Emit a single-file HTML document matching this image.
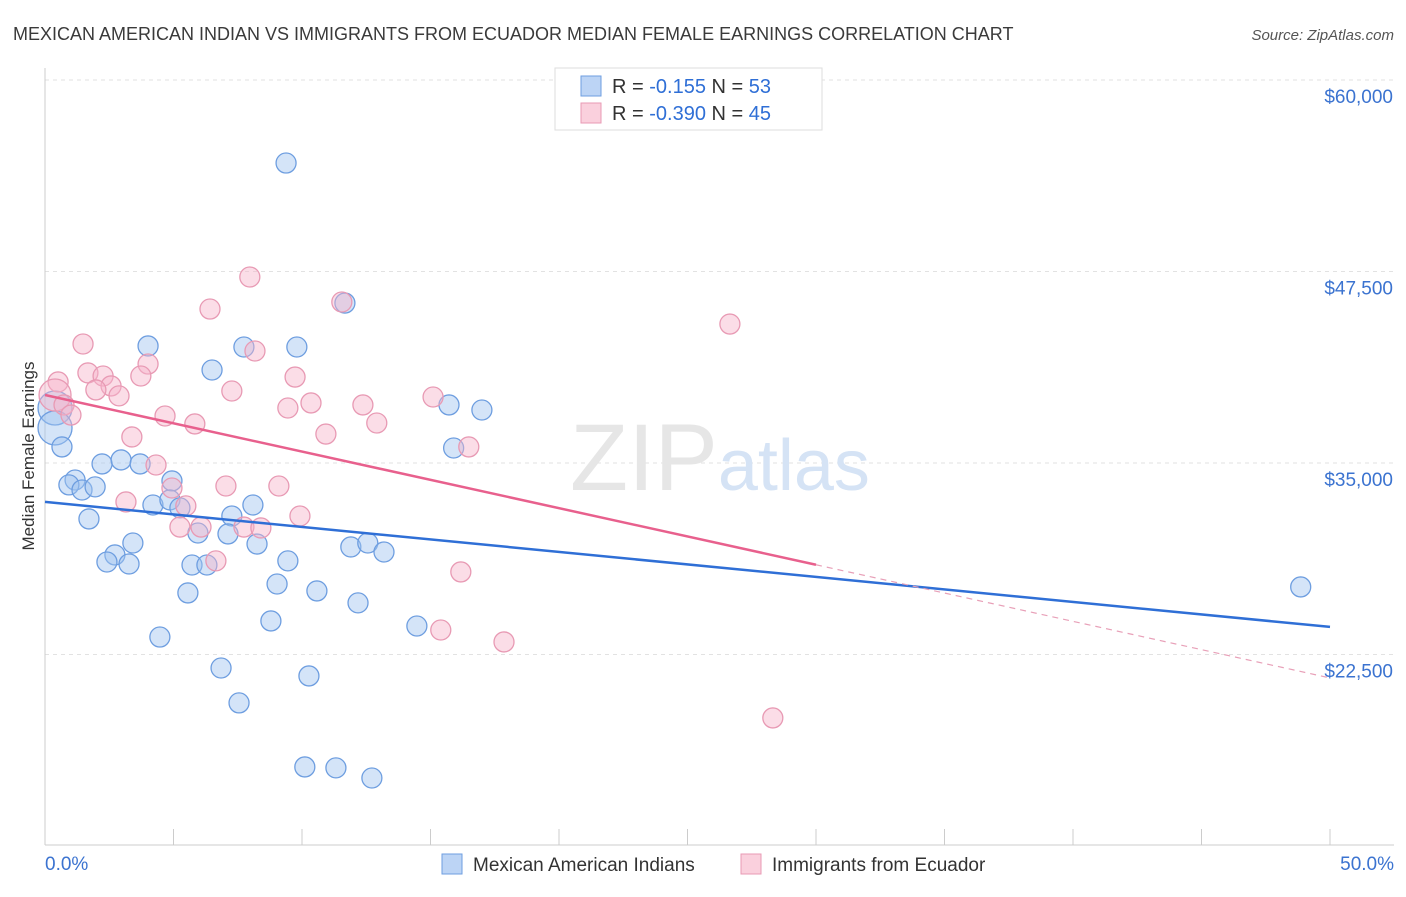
<!DOCTYPE html>
<html><head><meta charset="utf-8"><style>
body{margin:0;background:#fff;font-family:"Liberation Sans",sans-serif}
svg text{font-family:"Liberation Sans",sans-serif}
</style></head><body>
<svg id="chart" width="1406" height="892" xmlns="http://www.w3.org/2000/svg">
<text x="13" y="40" font-size="18" fill="#3a3a3a">MEXICAN AMERICAN INDIAN VS IMMIGRANTS FROM ECUADOR MEDIAN FEMALE EARNINGS CORRELATION CHART</text>
<text x="1394" y="40" font-size="15" fill="#555" text-anchor="end" font-style="italic">Source: ZipAtlas.com</text>
<g id="grid"></g>
<text x="720" y="490" font-size="95" fill="#e6e6e6" text-anchor="middle" font-family="Liberation Serif">ZIP<tspan fill="#d5e3f5" font-family="Liberation Sans" font-size="72">atlas</tspan></text>
<g id="points"></g>
<g id="lines"></g>
<text transform="translate(34,456) rotate(-90)" font-size="17" fill="#333" text-anchor="middle">Median Female Earnings</text>
<g>
<rect x="555" y="68" width="267" height="62" fill="#fff" stroke="#ddd"/>
<rect x="581" y="76" width="20" height="20" fill="#bcd4f5" stroke="#6e9ee0"/>
<text x="612" y="93" font-size="20" fill="#333">R = <tspan fill="#2f6fd6">-0.155</tspan>   N = <tspan fill="#2f6fd6">53</tspan></text>
<rect x="581" y="103" width="20" height="20" fill="#fad0dd" stroke="#e89ab4"/>
<text x="612" y="120" font-size="20" fill="#333">R = <tspan fill="#2f6fd6">-0.390</tspan>   N = <tspan fill="#2f6fd6">45</tspan></text>
</g>
<g>
<rect x="442" y="854" width="20" height="20" fill="#bcd4f5" stroke="#6e9ee0"/>
<text x="473" y="871" font-size="19" fill="#333">Mexican American Indians</text>
<rect x="741" y="854" width="20" height="20" fill="#fad0dd" stroke="#e89ab4"/>
<text x="772" y="871" font-size="19" fill="#333">Immigrants from Ecuador</text>
</g>
</svg>
<script>
const xTicks=[0,5,10,15,20,25,30,35,40,45,50];
const yTicks=[22500,35000,47500,60000];
const yTickLabels=["$22,500","$35,000","$47,500","$60,000"];
const blueX=[9.38,4.01,7.74,9.80,6.50,11.67,15.72,17.0,15.9,0.39,0.39,0.66,2.22,2.96,3.70,1.17,0.93,1.44,1.95,1.71,4.20,4.94,4.86,5.25,8.09,7.27,5.95,7.12,3.42,2.72,2.41,3.27,5.72,6.30,8.25,9.45,11.9,12.56,13.19,9.03,10.58,5.56,12.18,8.79,14.47,4.47,6.85,10.27,7.55,10.11,11.32,12.72,48.86];
const blueY=[54580,42640,42570,42570,41070,45440,38790,38460,35980,38590,37290,36050,34940,35200,34940,33890,33570,33240,33440,31350,32260,33830,32590,32070,32260,31540,30430,30370,29780,29000,28540,28410,28340,28340,29710,28610,29520,29780,29190,27100,26650,26520,25870,24690,24360,23640,21620,21100,19340,15160,15100,14440,26910];
const pinkX=[7.97,11.55,6.42,26.65,1.48,8.17,4.01,1.67,2.26,3.73,9.73,0.51,2.57,1.98,2.88,7.27,0.39,15.1,0.74,10.35,12.37,9.45,1.01,4.67,5.83,12.91,10.93,3.38,16.49,4.32,7.04,9.1,4.94,5.48,3.15,9.92,5.25,6.07,7.74,8.40,6.65,16.18,15.4,17.86,28.32];
const pinkY=[47140,45510,45050,44070,42770,42310,41460,40880,40680,40680,40610,40290,40030,39770,39380,39700,39440,39310,38790,38920,38790,38590,38130,38070,37550,37610,36890,36700,36050,34870,33500,33500,33370,32200,32460,31540,30820,30820,30820,30760,28610,27890,24100,23320,18360];
const blueTrend=[32460,24300];
const pinkTrend=[39440,20970];
const pinkSolidEnd=30;
const NS="http://www.w3.org/2000/svg";
const X=v=>45+v/50*1285;
const Y=v=>80+(60000-v)/12500*191.5;
function mk(tag,attrs,parent){const e=document.createElementNS(NS,tag);for(const k in attrs)e.setAttribute(k,attrs[k]);parent.appendChild(e);return e;}
const grid=document.getElementById('grid');
yTicks.forEach((t,i)=>{
 const l=mk('line',{x1:45,x2:1394,y1:Y(t),y2:Y(t),stroke:'#e2e2e2','stroke-dasharray':'4 4'},grid);
 
 
 const tx=mk('text',{x:1393,y:Y(t)+23,'font-size':19,fill:'#3b73d0','text-anchor':'end'},grid);
 tx.textContent=yTickLabels[i];
 
 
});
const ax=mk('line',{x1:45,x2:1394,y1:845,y2:845,stroke:'#ccc'},grid);


const ay=mk('line',{x1:45,x2:45,y1:68,y2:845,stroke:'#ccc'},grid);


xTicks.forEach(t=>{
 const l=mk('line',{x1:X(t),x2:X(t),y1:829,y2:845,stroke:'#ccc'},grid);
 
 
});
[[0,'0.0%','start',45],[50,'50.0%','end',1394]].forEach(a=>{
 const tx=mk('text',{x:a[3],y:870,'font-size':19,fill:'#3b73d0','text-anchor':a[2]},grid);
 tx.textContent=a[1];
 
 
});
const pts=document.getElementById('points');
blueX.forEach((x,i)=>{
 const big=(x<0.5&&i>=9&&i<=10);
 const c=mk('circle',{cx:X(x),cy:Y(blueY[i]),r:big?17:10,fill:'rgba(160,196,240,0.45)',stroke:'#6e9ee0','stroke-width':1.3},pts);
 
 
});
pinkX.forEach((x,i)=>{
 const big=(i===16);
 const c=mk('circle',{cx:X(x),cy:Y(pinkY[i]),r:big?16:10,fill:'rgba(246,180,202,0.45)',stroke:'#e89ab4','stroke-width':1.3},pts);
 
 
});
const ln=document.getElementById('lines');
const b=mk('line',{x1:X(0),y1:Y(blueTrend[0]),x2:X(50),y2:Y(blueTrend[1]),stroke:'#2f6fd6','stroke-width':2.5},ln);


const py=v=>pinkTrend[0]+(pinkTrend[1]-pinkTrend[0])*v/50;
const p=mk('line',{x1:X(0),y1:Y(py(0)),x2:X(pinkSolidEnd),y2:Y(py(pinkSolidEnd)),stroke:'#e8608d','stroke-width':2.5},ln);


const pd=mk('line',{x1:X(pinkSolidEnd),y1:Y(py(pinkSolidEnd)),x2:X(50),y2:Y(py(50)),stroke:'#e8a0b8','stroke-width':1.2,'stroke-dasharray':'6 5'},ln);


</script>
</body></html>
